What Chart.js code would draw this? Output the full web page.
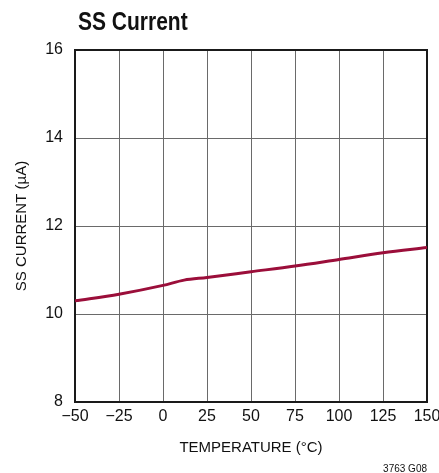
<!DOCTYPE html>
<html>
<head>
<meta charset="utf-8">
<script src="https://cdn.jsdelivr.net/npm/chart.js@4/dist/chart.umd.min.js"></script>
<style>
  html, body { margin: 0; padding: 0; background: #fff; }
  #wrap { width: 439px; height: 473px; position: relative; }
</style>
</head>
<body>
<div id="wrap"><canvas id="ssChart"></canvas></div>
<script>
// temperature (°C) and SS current (µA)
const temps = [-50, -25, 0, 12, 25, 50, 75, 100, 125, 150];
const ssCurrent = [10.30, 10.45, 10.65, 10.77, 10.83, 10.96, 11.09, 11.24, 11.39, 11.51];

const xTicks = [-50, -25, 0, 25, 50, 75, 100, 125, 150];
const yTicks = [8, 10, 12, 14, 16];

const chartTitle = 'SS Current';
const xTitle = 'TEMPERATURE (°C)';
const yTitle = 'SS CURRENT (µA)';
const figId = '3763 G08';

const axisFont = {family: '"Liberation Sans", Arial, sans-serif', size: 15};

// frame, title and figure number
const extrasPlugin = {
    id: 'extras',
    beforeDatasetsDraw(chart) {
        const {ctx, chartArea} = chart;
        ctx.save();
        ctx.strokeStyle = '#1a1a1a';
        ctx.lineWidth = 2;
        ctx.strokeRect(chartArea.left, chartArea.top, chartArea.right - chartArea.left, chartArea.bottom - chartArea.top);
        ctx.restore();
    },
    afterDraw(chart) {
        const {ctx, chartArea} = chart;
        ctx.save();
        ctx.fillStyle = '#111';
        ctx.textBaseline = 'alphabetic';
        ctx.textAlign = 'left';
        // no condensed face installed, so squeeze the bold title a bit
        ctx.translate(78, 30);
        ctx.scale(0.84, 1);
        ctx.font = 'bold 25px "Liberation Sans", Arial, sans-serif';
        ctx.fillText(chartTitle, 0, 0);
        ctx.restore();
        ctx.save();
        ctx.fillStyle = '#111';
        ctx.font = '10px "Liberation Sans", Arial, sans-serif';
        ctx.textAlign = 'right';
        ctx.fillText(figId, chartArea.right, 472);
        ctx.restore();
    }
};

const ctx = document.getElementById('ssChart');
new Chart(ctx, {
    type: 'line',
    data: {
        datasets: [{
            data: temps.map((t, i) => ({x: t, y: ssCurrent[i]})),
            borderColor: '#9b0e3a',
            borderWidth: 3,
            pointRadius: 0,
            cubicInterpolationMode: 'monotone',
            fill: false
        }]
    },
    options: {
        responsive: true,
        maintainAspectRatio: false,
        animation: false,
        layout: {
            padding: {left: 0, right: 12, top: 50, bottom: 0}
        },
        plugins: {
            legend: {display: false},
            tooltip: {enabled: false}
        },
        scales: {
            x: {
                type: 'linear',
                min: -50,
                max: 150,
                afterBuildTicks: (scale) => { scale.ticks = xTicks.map(v => ({value: v})); },
                afterFit: (scale) => {
                    scale.height = 71;
                    // let the "150" label run off the edge like the original
                    scale.paddingRight = 0;
                    scale.paddingLeft = 0;
                },
                grid: {color: '#6a6a6a', lineWidth: 1, drawTicks: false},
                border: {display: false},
                ticks: {
                    color: '#111',
                    font: {family: axisFont.family, size: 16},
                    padding: 5,
                    maxRotation: 0,
                    autoSkip: false,
                    callback: (v) => String(v).replace('-', '\u2212')
                },
                title: {
                    display: true,
                    text: xTitle,
                    color: '#111',
                    font: axisFont,
                    padding: {top: 0, bottom: 16}
                }
            },
            y: {
                min: 8,
                max: 16,
                afterBuildTicks: (scale) => { scale.ticks = yTicks.map(v => ({value: v})); },
                afterFit: (scale) => { scale.width = 75; },
                grid: {color: '#6a6a6a', lineWidth: 1, drawTicks: false},
                border: {display: false},
                ticks: {
                    color: '#111',
                    font: {family: axisFont.family, size: 16},
                    padding: 12
                },
                title: {
                    display: true,
                    text: yTitle,
                    color: '#111',
                    font: axisFont,
                    padding: {top: 13, bottom: 0}
                }
            }
        }
    },
    plugins: [extrasPlugin]
});
</script>
</body>
</html>
